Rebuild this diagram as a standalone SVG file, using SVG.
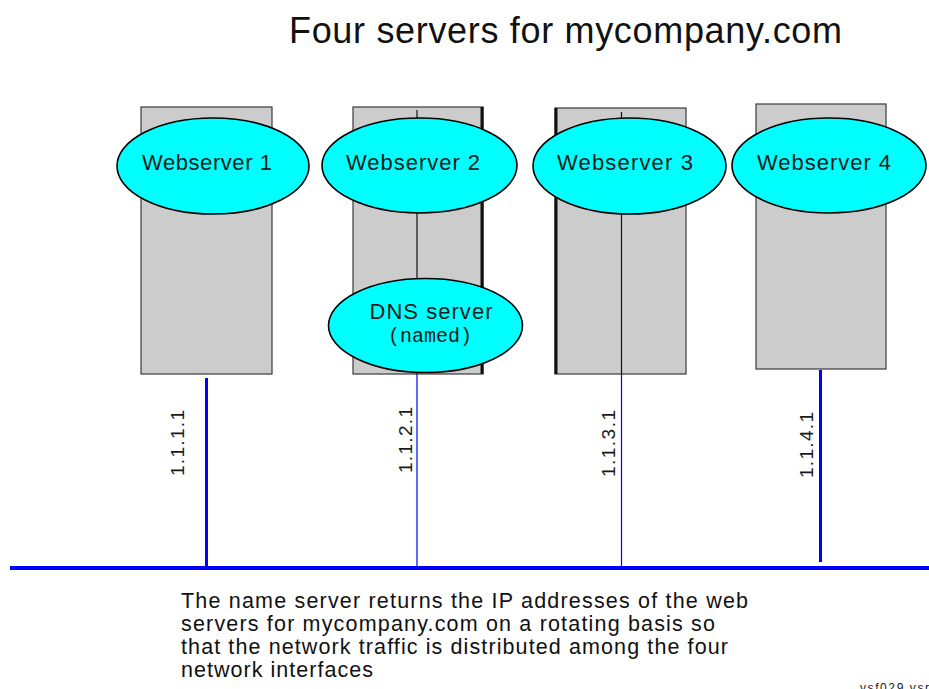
<svg xmlns="http://www.w3.org/2000/svg" width="929" height="689" viewBox="0 0 929 689">
  <style>
    .box { fill: #cccccc; stroke: #3a3a3a; stroke-width: 1.2; }
    .edge { stroke: #111111; stroke-width: 3; }
    .inner { stroke: #111111; stroke-width: 1.2; }
    .svc { fill: #00ffff; stroke: #000000; stroke-width: 1.6; }
    .lbl { font-family: "Liberation Sans", Arial, sans-serif; font-size: 22px; fill: #1a1a1a; text-anchor: middle; }
    .mono { font-family: "Liberation Mono", "Courier New", monospace; font-size: 20px; fill: #1a1a1a; text-anchor: middle; }
    .ip { font-family: "Liberation Sans", Arial, sans-serif; font-size: 19px; fill: #1a1a1a; }
    .note { font-family: "Liberation Sans", Arial, sans-serif; font-size: 21.5px; fill: #111111; }
    .link { stroke: #0000ff; fill: none; }
  </style>
  <rect width="929" height="689" fill="#ffffff"/>

  <text x="289" y="43" font-family="Liberation Sans, Arial, sans-serif" font-size="36" fill="#111111" textLength="553" lengthAdjust="spacing">Four servers for mycompany.com</text>

  <!-- network links -->
  <g id="connectors">
    <line class="link" x1="10" y1="568" x2="929" y2="568" stroke-width="4"/>
    <line class="link" x1="206.5" y1="378" x2="206.5" y2="568" stroke-width="3"/>
    <line class="link" x1="417" y1="374" x2="417" y2="568" stroke-width="1.2"/>
    <line class="link" x1="621.5" y1="374" x2="621.5" y2="568" stroke-width="1.2"/>
    <line class="link" x1="820.5" y1="370" x2="820.5" y2="562" stroke-width="3"/>
  </g>

  <g id="server1">
    <rect class="box" x="141" y="107" width="131" height="267"/>
    <ellipse class="svc" cx="213" cy="166" rx="96" ry="48"/>
    <text class="lbl" x="207" y="170" textLength="130" lengthAdjust="spacing">Webserver 1</text>
    <text class="ip" transform="translate(184,476) rotate(-90)" textLength="66" lengthAdjust="spacing">1.1.1.1</text>
  </g>

  <g id="server2">
    <rect class="box" x="353" y="107" width="130" height="267"/>
    <line class="edge" x1="482" y1="107" x2="482" y2="374"/>
    <line class="inner" x1="417" y1="110" x2="417" y2="374"/>
    <ellipse class="svc" cx="419.5" cy="165.5" rx="97.5" ry="47.5"/>
    <text class="lbl" x="413" y="170" textLength="134" lengthAdjust="spacing">Webserver 2</text>
    <text class="ip" transform="translate(412,473) rotate(-90)" textLength="66" lengthAdjust="spacing">1.1.2.1</text>
  </g>

  <g id="dns">
    <ellipse class="svc" cx="425.5" cy="325.5" rx="97" ry="47"/>
    <text class="lbl" x="431" y="319" textLength="123" lengthAdjust="spacing">DNS server</text>
    <text class="mono" x="430" y="342">(named)</text>
  </g>

  <g id="server3">
    <rect class="box" x="555" y="108" width="131" height="266"/>
    <line class="edge" x1="556" y1="108" x2="556" y2="374"/>
    <line class="inner" x1="621.5" y1="112" x2="621.5" y2="374"/>
    <ellipse class="svc" cx="629.5" cy="166" rx="96.5" ry="48"/>
    <text class="lbl" x="625" y="170" textLength="136" lengthAdjust="spacing">Webserver 3</text>
    <text class="ip" transform="translate(615,477) rotate(-90)" textLength="67" lengthAdjust="spacing">1.1.3.1</text>
  </g>

  <g id="server4">
    <rect class="box" x="756" y="104" width="130" height="265"/>
    <ellipse class="svc" cx="829" cy="165.5" rx="97" ry="47.5"/>
    <text class="lbl" x="824" y="170" textLength="134" lengthAdjust="spacing">Webserver 4</text>
    <text class="ip" transform="translate(813,478) rotate(-90)" textLength="66" lengthAdjust="spacing">1.1.4.1</text>
  </g>

  <g id="caption">
    <text class="note" x="181" y="608" textLength="567" lengthAdjust="spacing">The name server returns the IP addresses of the web</text>
    <text class="note" x="181" y="631" textLength="534" lengthAdjust="spacing">servers for mycompany.com on a rotating basis so</text>
    <text class="note" x="181" y="654" textLength="547" lengthAdjust="spacing">that the network traffic is distributed among the four</text>
    <text class="note" x="181" y="677" textLength="192" lengthAdjust="spacing">network interfaces</text>
    <text x="860" y="692" font-family="Liberation Sans, Arial, sans-serif" font-size="12" fill="#222222" textLength="69" lengthAdjust="spacing">vsf029.vsr</text>
  </g>
</svg>
